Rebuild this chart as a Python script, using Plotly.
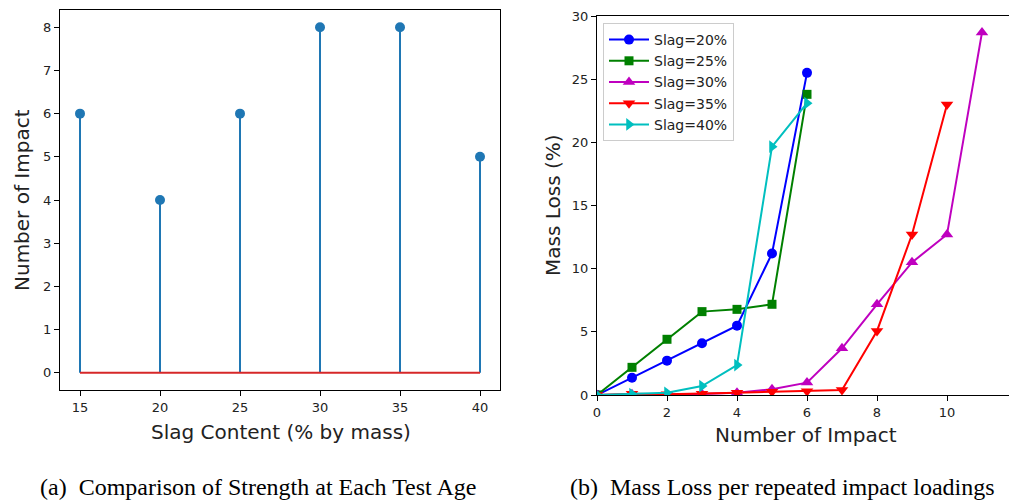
import plotly.graph_objects as go

# ---- data: left (stem) ----
slag_content = [15, 20, 25, 30, 35, 40]
num_impact = [6, 4, 6, 8, 8, 5]

# ---- data: right (mass loss) ----
x20 = [0, 1, 2, 3, 4, 5, 6]
y20 = [0, 1.37, 2.72, 4.09, 5.49, 11.2, 25.5]
x25 = [0, 1, 2, 3, 4, 5, 6]
y25 = [0, 2.19, 4.41, 6.6, 6.78, 7.18, 23.8]
x30 = [0, 1, 2, 3, 4, 5, 6, 7, 8, 9, 10, 11]
y30 = [0, 0.05, 0.05, 0.08, 0.18, 0.45, 0.98, 3.7, 7.18, 10.5, 12.7, 28.7]
x35 = [0, 1, 2, 3, 4, 5, 6, 7, 8, 9, 10]
y35 = [0, 0.1, 0.05, 0.1, 0.18, 0.26, 0.3, 0.4, 5.07, 12.7, 23.0]
x40 = [0, 1, 2, 3, 4, 5, 6]
y40 = [0, 0.08, 0.18, 0.71, 2.37, 19.66, 23.1]

series = [
    ("Slag=20%", x20, y20, "#0000ff", "circle", 10),
    ("Slag=25%", x25, y25, "#008000", "square", 9),
    ("Slag=30%", x30, y30, "#bf00bf", "triangle-up", 11),
    ("Slag=35%", x35, y35, "#ff0000", "triangle-down", 11),
    ("Slag=40%", x40, y40, "#00bfbf", "triangle-right", 11),
]

# page body has an 8px margin; compensate so that screen pixels match the reference
OFF = 8
W, H = 1017 - OFF, 501 - OFF
def px(x): return (x - OFF) / W
def py(y): return 1 - (y - OFF) / H

fig = go.Figure()

# stems
sx, sy = [], []
for xv, yv in zip(slag_content, num_impact):
    sx += [xv, xv, None]
    sy += [0, yv, None]
fig.add_trace(go.Scatter(x=sx, y=sy, mode="lines", line=dict(color="#1f77b4", width=2),
                         showlegend=False, xaxis="x", yaxis="y", hoverinfo="skip"))
fig.add_trace(go.Scatter(x=[min(slag_content), max(slag_content)], y=[0, 0], mode="lines",
                         line=dict(color="#d62728", width=2), showlegend=False, xaxis="x", yaxis="y"))
fig.add_trace(go.Scatter(x=slag_content, y=num_impact, mode="markers",
                         marker=dict(color="#1f77b4", size=10), showlegend=False, xaxis="x", yaxis="y"))

for name, xs, ys, col, sym, sz in series:
    fig.add_trace(go.Scatter(x=xs, y=ys, mode="lines+markers", name=name,
                             line=dict(color=col, width=2),
                             marker=dict(color=col, symbol=sym, size=sz),
                             xaxis="x2", yaxis="y2"))

axis_common = dict(showline=True, linecolor="black", linewidth=1, mirror=True,
                   ticks="outside", ticklen=5, tickwidth=1, tickcolor="black",
                   showgrid=False, zeroline=False,
                   tickfont=dict(family="DejaVu Sans", size=13, color="#222"))

fig.update_layout(
    width=W, height=H,
    margin=dict(l=0, r=0, t=0, b=0),
    paper_bgcolor="white", plot_bgcolor="white",
    xaxis=dict(domain=[px(60), px(500)], range=[13.75, 41.25], tickvals=slag_content,
               anchor="y", automargin=False, **axis_common),
    yaxis=dict(domain=[py(390), py(10)], range=[-0.4, 8.4], dtick=1,
               anchor="x", automargin=False, **axis_common),
    xaxis2=dict(domain=[px(597), 1.0], range=[0, 12], dtick=2,
                anchor="y2", automargin=False, **axis_common),
    yaxis2=dict(domain=[py(395), py(16)], range=[0, 30], dtick=5,
                anchor="x2", automargin=False, **axis_common),
    legend=dict(x=px(603), y=py(23), xanchor="left", yanchor="top",
                bgcolor="rgba(255,255,255,0.8)", bordercolor="#cccccc", borderwidth=1,
                font=dict(family="DejaVu Sans", size=14, color="#222"),
                tracegroupgap=0, itemwidth=40),
    showlegend=True,
)

lab_font = dict(family="DejaVu Sans", size=20, color="#222")
cap_font = dict(family="Liberation Serif", size=24, color="black")
ann = [
    dict(text="Slag Content (% by mass)", x=px(281), y=py(432), font=lab_font),
    dict(text="Number of Impact", x=px(22), y=py(200), font=lab_font, textangle=-90),
    dict(text="Number of Impact", x=px(806), y=py(435), font=lab_font),
    dict(text="Mass Loss (%)", x=px(553), y=py(205), font=lab_font, textangle=-90),
    dict(text="(a)  Comparison of Strength at Each Test Age", x=px(258), y=py(487), font=cap_font),
    dict(text="(b)  Mass Loss per repeated impact loadings", x=px(782), y=py(487), font=cap_font),
]
for a in ann:
    fig.add_annotation(xref="paper", yref="paper", showarrow=False,
                       xanchor="center", yanchor="middle", **a)

fig.write_html("out.html")
